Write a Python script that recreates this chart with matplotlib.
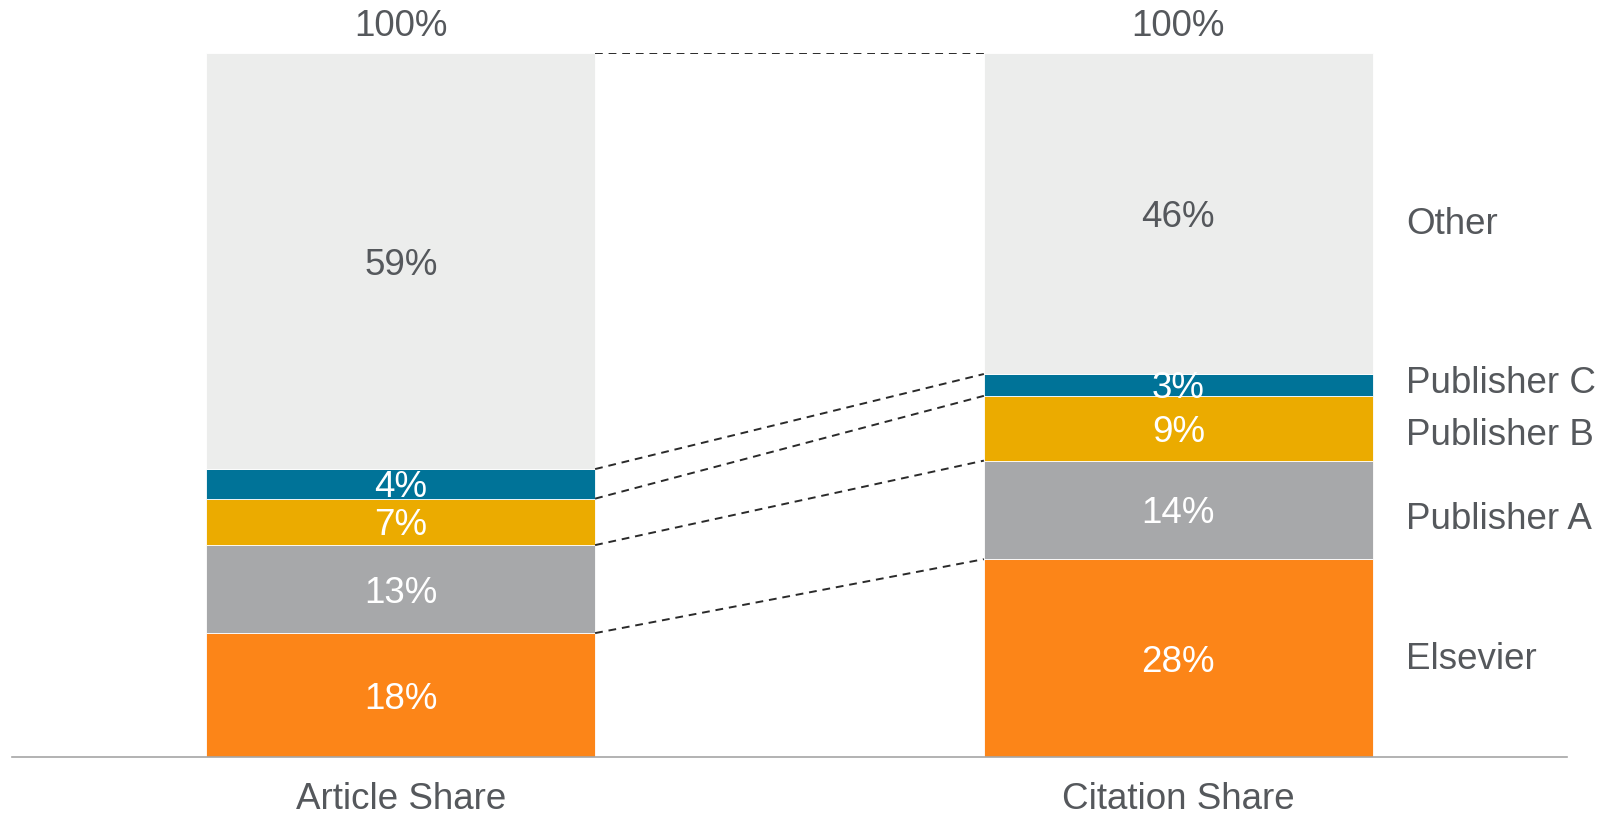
import numpy as np
import matplotlib.pyplot as plt

plt.rcParams['font.family'] = ['Liberation Sans', 'DejaVu Sans']

categories = ['Article Share', 'Citation Share']
publishers = ['Elsevier', 'Publisher A', 'Publisher B', 'Publisher C', 'Other']
article_share = [17.6, 12.5, 6.6, 4.2, 59.1]
citation_share = [28.1, 14.0, 9.2, 3.1, 45.6]
shown_article = ['18%', '13%', '7%', '4%', '59%']
shown_citation = ['28%', '14%', '9%', '3%', '46%']
total_label = '100%'

colors = ['#FC8518', '#A7A8AA', '#EBAB00', '#007398', '#ECEDEC']
text_colors = ['white', 'white', 'white', 'white', '#55585C']
label_nudge = [1.8, -3.7, -2.6, 4, -5]  # points, right-hand legend labels

def main():
    fig = plt.figure(figsize=(16.07, 8.17), dpi=100)
    ax = fig.add_axes([12 / 1607, 60 / 817, 1555 / 1607, 704 / 817])

    x = np.arange(len(categories))
    width = 0.5
    data = np.array([article_share, citation_share])
    shown = [shown_article, shown_citation]
    bottoms = np.zeros(len(categories))
    fs = 26.5
    grey = '#55585C'

    for i, pub in enumerate(publishers):
        vals = data[:, i]
        ax.bar(x, vals, width, bottom=bottoms, color=colors[i],
               edgecolor='white', linewidth=0.6)
        for j in range(len(categories)):
            ax.text(x[j], bottoms[j] + vals[j] / 2, shown[j][i],
                    ha='center', va='center_baseline', fontsize=fs,
                    color=text_colors[i])
        bottoms = bottoms + vals

    # dashed connectors between segment tops
    tops = np.cumsum(data, axis=1)
    for k in range(len(publishers)):
        ax.plot([x[0] + width / 2, x[1] - width / 2], [tops[0, k], tops[1, k]],
                color='#2A2A2A', linestyle=(0, (4, 3)), linewidth=1.4)

    for j in range(len(categories)):
        ax.annotate(total_label, (x[j], tops[j, -1]), xytext=(0, 12),
                    textcoords='offset points', ha='center', va='baseline',
                    fontsize=fs, color=grey, annotation_clip=False)

    # right-hand labels next to citation bar
    centers = tops[1] - data[1] / 2
    for k, pub in enumerate(publishers):
        ax.annotate(pub, (x[1] + width / 2, centers[k]), xytext=(24, label_nudge[k]),
                    textcoords='offset points', ha='left', va='center_baseline',
                    fontsize=fs, color=grey, annotation_clip=False)

    ax.set_xlim(-0.5, 1.5)
    ax.set_ylim(0, 100)
    ax.set_xticks(x)
    ax.set_xticklabels(categories, fontsize=fs, color=grey)
    ax.tick_params(axis='x', length=0, pad=18)
    ax.set_yticks([])
    for s in ['top', 'right', 'left']:
        ax.spines[s].set_visible(False)
    ax.spines['bottom'].set_color('#A6A6A6')
    ax.spines['bottom'].set_linewidth(1.2)

    fig.savefig('out.png', dpi=100)

if __name__ == '__main__':
    main()
